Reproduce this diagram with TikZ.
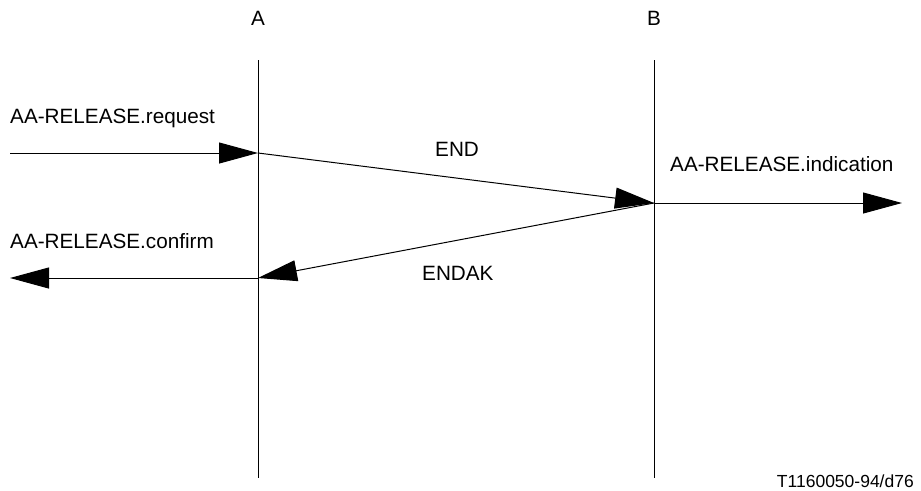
\documentclass[tikz,border=0pt]{standalone}
\usepackage{fontspec}
\setmainfont{Liberation Sans}
\usetikzlibrary{arrows.meta}
\begin{document}
\begin{tikzpicture}[x=1pt,y=-1pt,
  lifeline/.style={line width=1pt},
  msg/.style={line width=1pt,-{Triangle[length=39pt,width=21pt]}},
  lbl/.style={font=\fontsize{20.7}{24}\selectfont,inner sep=0pt},
  tag/.style={font=\fontsize{17.5}{20}\selectfont,inner sep=0pt}]
\useasboundingbox (0,0) rectangle (921,490);
% lifelines
\coordinate (Atop) at (258,60);
\coordinate (Abot) at (258,478);
\coordinate (Btop) at (654,60);
\coordinate (Bbot) at (654,478);
\draw[lifeline] (Atop) -- (Abot);
\draw[lifeline] (Btop) -- (Bbot);
\node[lbl,anchor=base] (la) at (258,25) {A};
\node[lbl,anchor=base] (lb) at (654,25) {B};
% event points
\coordinate (reqS) at (10,153);
\coordinate (A1) at (258,153);
\coordinate (B1) at (654,203);
\coordinate (indE) at (902,203);
\coordinate (A2) at (258,278);
\coordinate (cnfE) at (10,278);
% arrows
\draw[msg] (reqS) -- (A1);
\draw[msg] (A1) -- (B1);
\draw[msg] (B1) -- (indE);
\draw[msg] (B1) -- (A2);
\draw[msg] (A2) -- (cnfE);
% labels
\node[lbl,anchor=base west] (treq) at (10,123) {AA-RELEASE.request};
\node[lbl,anchor=base west] (tend) at (435,156) {END};
\node[lbl,anchor=base west] (tind) at (670,171) {AA-RELEASE.indication};
\node[lbl,anchor=base west] (tcnf) at (10,248) {AA-RELEASE.confirm};
\node[lbl,anchor=base west] (tendak) at (422,280) {ENDAK};
\node[tag,anchor=base east] (ttag) at (914,487) {T1160050-94/d76};
\end{tikzpicture}
\end{document}
